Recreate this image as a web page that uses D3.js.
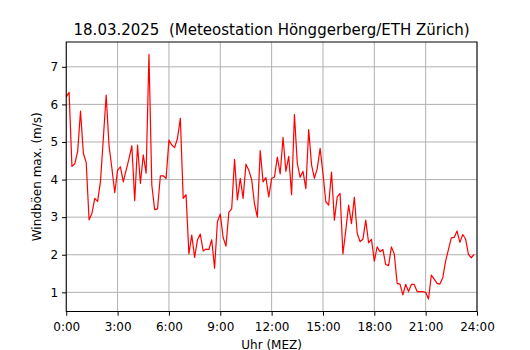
<!DOCTYPE html>
<html>
<head>
<meta charset="utf-8">
<script src="https://cdn.jsdelivr.net/npm/d3@7/dist/d3.min.js"></script>
<style>
  body { margin: 0; background: #fff; }
  text { font-family: "DejaVu Sans", sans-serif; fill: #000; }
</style>
</head>
<body>
<svg id="chart" width="530" height="350"></svg>
<script>
// chart data (10 minute values starting 0:00)
var title = '18.03.2025  (Meteostation Hönggerberg/ETH Zürich)';
var xLabel = 'Uhr (MEZ)';
var yLabel = 'Windböen max. (m/s)';
var xTickHours = [0, 3, 6, 9, 12, 15, 18, 21, 24];
var yTickValues = [1, 2, 3, 4, 5, 6, 7];
var stepMinutes = 10;
var gusts = [
  6.20, 6.32, 4.35, 4.42, 4.75, 5.82, 4.70, 4.45, 2.93, 3.10, 3.50, 3.42,
  3.95, 5.10, 6.25, 4.90, 4.30, 3.65, 4.25, 4.34, 3.94, 4.25, 4.56, 4.90,
  3.44, 4.92, 3.90, 4.66, 4.17, 7.33, 3.85, 3.20, 3.22, 4.10, 4.10, 4.03,
  5.05, 4.92, 4.85, 5.10, 5.63, 3.50, 3.60, 2.02, 2.52, 1.93, 2.39, 2.55,
  2.10, 2.15, 2.14, 2.40, 1.64, 2.88, 3.08, 2.46, 2.23, 3.13, 3.22, 4.54,
  3.46, 4.03, 3.50, 4.41, 4.25, 4.00, 3.35, 3.00, 4.77, 3.94, 4.05, 3.54,
  4.03, 4.07, 4.60, 4.15, 5.12, 4.22, 4.62, 3.60, 5.73, 4.43, 4.06, 4.22,
  3.76, 5.33, 4.39, 4.03, 4.30, 4.83, 4.16, 3.41, 3.32, 4.20, 2.92, 3.54,
  3.63, 2.02, 2.65, 3.32, 2.83, 3.53, 2.57, 2.35, 2.41, 2.92, 2.32, 2.41,
  1.83, 2.21, 2.08, 2.14, 1.74, 1.71, 2.21, 2.02, 1.24, 1.22, 0.93, 1.21,
  1.02, 1.21, 1.21, 1.02, 1.02, 1.02, 1.00, 0.82, 1.46, 1.35, 1.24, 1.22,
  1.39, 1.83, 2.14, 2.45, 2.46, 2.63, 2.33, 2.54, 2.42, 2.01, 1.92, 2.01
];

var width = 530, height = 350;
var margin = { top: 42, right: 53, bottom: 38.5, left: 66.25 };
var plotW = width - margin.left - margin.right;
var plotH = height - margin.top - margin.bottom;

var svg = d3.select('#chart');

var x = d3.scaleLinear().domain([0, 24]).range([0, plotW]);
var y = d3.scaleLinear().domain([0.49, 7.66]).range([plotH, 0]);

var g = svg.append('g')
  .attr('transform', 'translate(' + margin.left + ',' + margin.top + ')');

// grid
g.append('g').selectAll('line').data(xTickHours).enter()
  .append('line')
  .attr('x1', function(d) { return x(d); })
  .attr('x2', function(d) { return x(d); })
  .attr('y1', 0).attr('y2', plotH)
  .attr('stroke', '#b0b0b0').attr('stroke-width', 1);
g.append('g').selectAll('line').data(yTickValues).enter()
  .append('line')
  .attr('y1', function(d) { return y(d); })
  .attr('y2', function(d) { return y(d); })
  .attr('x1', 0).attr('x2', plotW)
  .attr('stroke', '#b0b0b0').attr('stroke-width', 1);

// data line
var line = d3.line()
  .x(function(d, i) { return x(i * stepMinutes / 60); })
  .y(function(d) { return y(d); });

g.append('path')
  .datum(gusts)
  .attr('fill', 'none')
  .attr('stroke', '#ff0000')
  .attr('stroke-width', 1.2)
  .attr('stroke-linejoin', 'round')
  .attr('d', line);

// axes
var xAxis = d3.axisBottom(x)
  .tickValues(xTickHours)
  .tickSize(4.2)
  .tickPadding(6.5)
  .tickFormat(function(d) { return d + ':00'; });
var yAxis = d3.axisLeft(y)
  .tickValues(yTickValues)
  .tickSize(4.2)
  .tickPadding(4)
  .tickFormat(d3.format('d'));

var gx = g.append('g')
  .attr('transform', 'translate(0,' + plotH + ')')
  .call(xAxis);
var gy = g.append('g').call(yAxis);

[gx, gy].forEach(function(a) {
  a.select('.domain').remove();
  a.selectAll('.tick line').attr('stroke', '#000').attr('stroke-width', 1);
  a.selectAll('.tick text')
    .style('font-family', '"DejaVu Sans", sans-serif')
    .style('font-size', '12px')
    .attr('fill', '#000');
});

// frame
g.append('rect')
  .attr('x', 0).attr('y', 0)
  .attr('width', plotW).attr('height', plotH)
  .attr('fill', 'none')
  .attr('stroke', '#000')
  .attr('stroke-width', 1);

// labels
svg.append('text')
  .attr('x', margin.left + plotW / 2)
  .attr('y', margin.top - 7)
  .attr('text-anchor', 'middle')
  .style('font-size', '15px')
  .style('white-space', 'pre')
  .text(title);

svg.append('text')
  .attr('x', margin.left + plotW / 2)
  .attr('y', 348.5)
  .attr('text-anchor', 'middle')
  .style('font-size', '12px')
  .text(xLabel);

svg.append('text')
  .attr('transform', 'translate(41,' + (margin.top + plotH / 2) + ') rotate(-90)')
  .attr('text-anchor', 'middle')
  .style('font-size', '12px')
  .text(yLabel);
</script>
</body>
</html>
